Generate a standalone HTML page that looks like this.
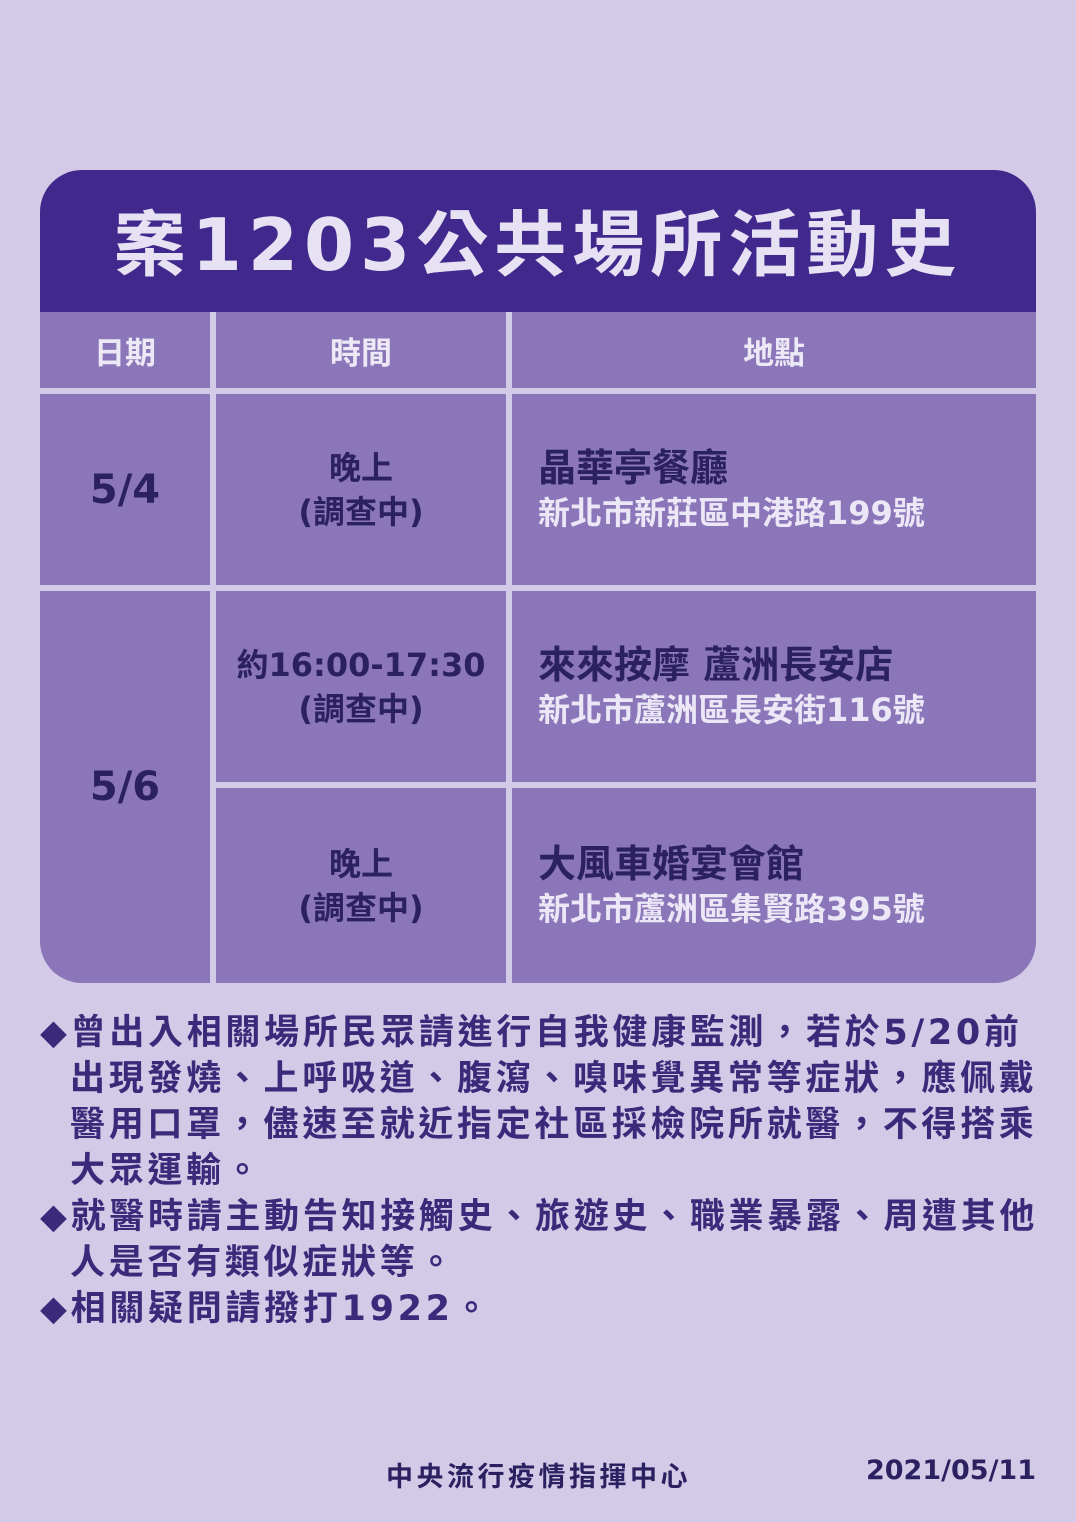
<!DOCTYPE html>
<html><head><meta charset="utf-8"><style>
*{margin:0;padding:0;box-sizing:border-box}
body{width:1076px;height:1522px;background:#d3cae8;position:relative;overflow:hidden;font-family:"DejaVu Sans","Noto Sans CJK TC",sans-serif;font-weight:bold}
.abs{position:absolute}
#card{left:40px;top:170px;width:996px;height:813px;border-radius:42px;overflow:hidden;background:#d3cae8}
#hdr{left:0;top:0;width:996px;height:142px;background:#41288c;color:#e6e1f3;font-size:72px;text-align:center;line-height:150px;letter-spacing:6px}
.c{position:absolute;background:#8a76b8;display:flex;flex-direction:column;align-items:center;justify-content:center;text-align:center}
.th{color:#ece8f6;font-size:31px}
.dt{color:#2c2160;font-size:40px}
.tm{color:#2c2160;font-size:32px;line-height:44px}
.pl{align-items:flex-start;padding-left:26px}
.pl .n{color:#2c2160;font-size:38px;line-height:46px}
.pl .a{color:#ebe7f6;font-size:32px;line-height:44px}
#notes{left:40px;top:1010px;width:1036px;color:#3b2a7a;font-size:35px;line-height:46px;letter-spacing:3.7px;white-space:nowrap}
#notes div{height:46px}
.ind{padding-left:30px}
#foot1{left:386px;top:1455px;font-size:27px;color:#2c2160;letter-spacing:3.5px}
#foot2{right:40px;top:1455px;font-size:27px;color:#2c2160}
</style></head><body>
<div id="card" class="abs">
<div id="hdr" class="abs">案1203公共場所活動史</div>
<div class="c th" style="left:0;top:142px;width:170px;height:76px">日期</div>
<div class="c th" style="left:176px;top:142px;width:290px;height:76px">時間</div>
<div class="c th" style="left:472px;top:142px;width:524px;height:76px">地點</div>

<div class="c dt" style="left:0;top:224px;width:170px;height:191px">5/4</div>
<div class="c tm" style="left:176px;top:224px;width:290px;height:191px"><div>晚上</div><div>(調查中)</div></div>
<div class="c pl" style="left:472px;top:224px;width:524px;height:191px"><div class="n">晶華亭餐廳</div><div class="a">新北市新莊區中港路199號</div></div>

<div class="c dt" style="left:0;top:421px;width:170px;height:392px">5/6</div>
<div class="c tm" style="left:176px;top:421px;width:290px;height:191px"><div>約16:00-17:30</div><div>(調查中)</div></div>
<div class="c pl" style="left:472px;top:421px;width:524px;height:191px"><div class="n">來來按摩 蘆洲長安店</div><div class="a">新北市蘆洲區長安街116號</div></div>
<div class="c tm" style="left:176px;top:618px;width:290px;height:195px"><div>晚上</div><div>(調查中)</div></div>
<div class="c pl" style="left:472px;top:618px;width:524px;height:195px"><div class="n">大風車婚宴會館</div><div class="a">新北市蘆洲區集賢路395號</div></div>
</div>
<div id="notes" class="abs">
<div>◆曾出入相關場所民眾請進行自我健康監測，若於5/20前</div>
<div class="ind">出現發燒、上呼吸道、腹瀉、嗅味覺異常等症狀，應佩戴</div>
<div class="ind">醫用口罩，儘速至就近指定社區採檢院所就醫，不得搭乘</div>
<div class="ind">大眾運輸。</div>
<div>◆就醫時請主動告知接觸史、旅遊史、職業暴露、周遭其他</div>
<div class="ind">人是否有類似症狀等。</div>
<div>◆相關疑問請撥打1922。</div>
</div>
<div id="foot1" class="abs">中央流行疫情指揮中心</div>
<div id="foot2" class="abs">2021/05/11</div>
</body></html>
